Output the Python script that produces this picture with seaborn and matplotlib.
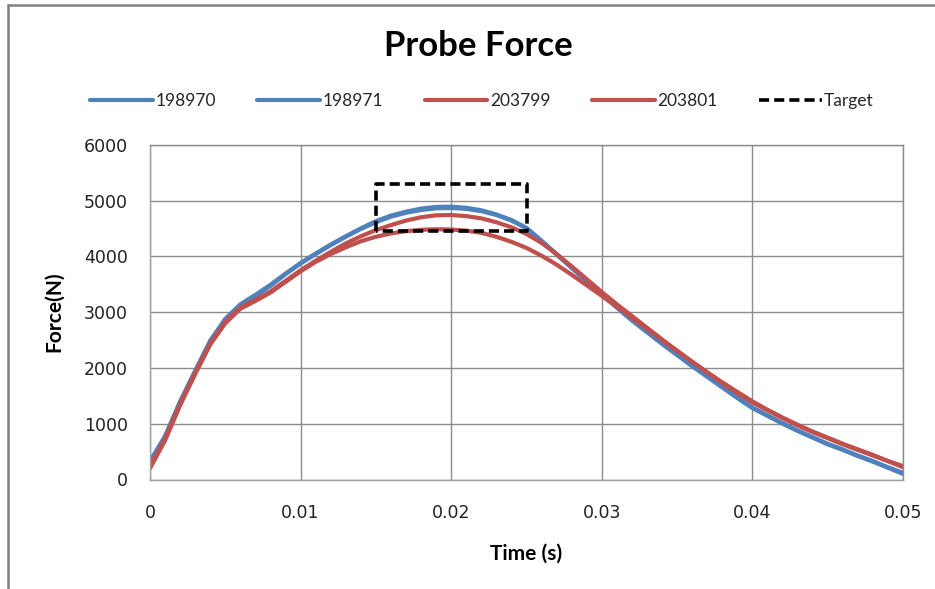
import numpy as np
import pandas as pd
import matplotlib
matplotlib.use("Agg")
import matplotlib.pyplot as plt
from matplotlib.lines import Line2D
import seaborn as sns

# Sample times (s), 1 ms spacing
time_s = np.linspace(0.0, 0.05, 51)

# Probe force traces (N)
force_198970 = [330, 780, 1400, 1950, 2490, 2880, 3140, 3310, 3490, 3690,
                3880, 4050, 4210, 4360, 4500, 4630, 4730, 4800, 4855, 4885,
                4890, 4870, 4825, 4750, 4650, 4510, 4280, 4040, 3800, 3560,
                3320, 3090, 2860, 2650, 2440, 2240, 2040, 1850, 1660, 1470,
                1290, 1150, 1010, 880, 760, 640, 540, 430, 330, 220, 120]
force_198971 = [300, 760, 1380, 1930, 2470, 2860, 3120, 3290, 3470, 3680,
                3870, 4040, 4200, 4350, 4490, 4610, 4710, 4780, 4830, 4860,
                4865, 4850, 4810, 4740, 4640, 4500, 4270, 4030, 3790, 3550,
                3310, 3080, 2850, 2640, 2430, 2230, 2030, 1840, 1650, 1460,
                1280, 1140, 1000, 870, 750, 630, 530, 420, 320, 210, 100]
force_203799 = [230, 730, 1360, 1910, 2440, 2820, 3080, 3220, 3370, 3560,
                3750, 3920, 4080, 4230, 4360, 4470, 4560, 4640, 4700, 4735,
                4740, 4720, 4680, 4610, 4520, 4400, 4240, 4040, 3820, 3590,
                3360, 3140, 2930, 2720, 2510, 2310, 2110, 1920, 1730, 1550,
                1380, 1240, 1100, 970, 850, 740, 630, 530, 430, 330, 240]
force_203801 = [200, 700, 1330, 1890, 2420, 2800, 3060, 3200, 3350, 3540,
                3730, 3900, 4040, 4160, 4270, 4350, 4410, 4450, 4475, 4485,
                4480, 4460, 4420, 4350, 4260, 4150, 4010, 3850, 3670, 3480,
                3290, 3100, 2900, 2700, 2500, 2300, 2110, 1920, 1740, 1570,
                1400, 1250, 1110, 980, 860, 750, 640, 540, 440, 330, 220]

series_names = ["198970", "198971", "203799", "203801"]
series_colors = ["#4F81BD", "#4F81BD", "#C0504D", "#C0504D"]

# Target window: 15-25 ms, 4450-5300 N
target_t = [0.015, 0.015, 0.025, 0.025, 0.015]
target_f = [4450, 5300, 5300, 4450, 4450]

x_ticks = [0, 0.01, 0.02, 0.03, 0.04, 0.05]
x_tick_labels = ["0", "0.01", "0.02", "0.03", "0.04", "0.05"]
y_ticks = [0, 1000, 2000, 3000, 4000, 5000, 6000]

sns.set_theme(style="white")
plt.rcParams["font.family"] = ["DejaVu Sans"]

traces = pd.DataFrame({
    "Time (s)": np.tile(time_s, 4),
    "Force (N)": np.concatenate([force_198970, force_198971,
                                 force_203799, force_203801]),
    "Specimen": np.repeat(series_names, len(time_s)),
})

W, H = 935, 589
fig = plt.figure(figsize=(W / 100, H / 100), dpi=100)
fig.patch.set_facecolor("white")
ax = fig.add_axes([150 / W, 1 - 479.5 / H, 753 / W, 334.8 / H])

sns.lineplot(data=traces, x="Time (s)", y="Force (N)", hue="Specimen",
             hue_order=series_names,
             palette=dict(zip(series_names, series_colors)),
             estimator=None, sort=False, linewidth=3.0, ax=ax)
sns.lineplot(x=target_t, y=target_f, sort=False, estimator=None,
             color="black", linewidth=2.6, linestyle=(0, (2.8, 1.4)),
             label="Target", ax=ax)

ax.set_xlim(0, 0.05)
ax.set_ylim(0, 6000)
ax.set_xticks(x_ticks)
ax.set_xticklabels(x_tick_labels)
ax.set_yticks(y_ticks)
ax.grid(True, color="#8c8c8c", linewidth=1.0)
ax.set_axisbelow(True)
for side in ["left", "bottom", "top", "right"]:
    ax.spines[side].set_visible(True)
    ax.spines[side].set_color("#8c8c8c")
    ax.spines[side].set_linewidth(1.0)
ax.spines["left"].set_color("#a0a0a0")
ax.spines["bottom"].set_color("#a0a0a0")
ax.tick_params(axis="both", length=0, labelsize=12.5, colors="#222222")
ax.tick_params(axis="x", pad=18)
ax.tick_params(axis="y", pad=16)

ax.set_xlabel("Time (s)", fontsize=15, fontweight="bold", family="Lato",
              color="black")
ax.set_ylabel("Force(N)", fontsize=15, fontweight="bold", family="Lato",
              color="black")
ax.xaxis.set_label_coords(0.5, -0.192)
ax.yaxis.set_label_coords(-0.114, 0.5)

handles, labels = ax.get_legend_handles_labels()
ax.get_legend().remove()
fig.legend(handles, labels, loc="center", ncol=5,
           bbox_to_anchor=(482 / W, 1 - 101 / H), frameon=False,
           prop={"family": "Lato", "size": 12.5},
           handlelength=3.6, handletextpad=0.15, columnspacing=2.4)

fig.text(478 / W, 1 - 46 / H, "Probe Force", ha="center", va="center",
         fontsize=25, fontweight="bold", family="Lato", color="black")

# Outer chart frame (top and left edges)
fig.add_artist(Line2D([7.5 / W, 1.0], [1 - 4.5 / H, 1 - 4.5 / H],
                      transform=fig.transFigure, color="#808080", linewidth=1.8))
fig.add_artist(Line2D([7.5 / W, 7.5 / W], [0.0, 1 - 4.5 / H],
                      transform=fig.transFigure, color="#808080", linewidth=1.8))

fig.savefig("out.png", dpi=100, facecolor="white")
